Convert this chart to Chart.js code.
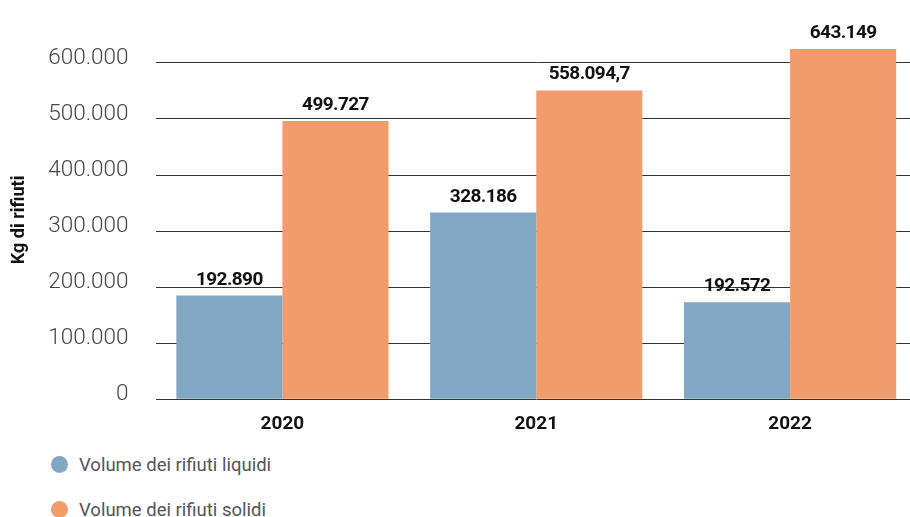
<!DOCTYPE html>
<html>
<head>
<meta charset="utf-8">
<script src="https://cdn.jsdelivr.net/npm/chart.js@4"></script>
<style>
  html, body { margin: 0; padding: 0; background: #fff; width: 910px; height: 517px; overflow: hidden; }
  #wrap { position: relative; width: 917px; height: 445px; }
  .legend { position: absolute; left: 51px; font-family: Roboto, sans-serif; font-size: 18.5px; font-weight: 400; color: #50555c; white-space: nowrap; }
  .legend span.dot { display: inline-block; width: 17px; height: 17px; border-radius: 50%; vertical-align: middle; margin-right: 11px; position: relative; top: -2px; }
</style>
</head>
<body>
<div id="wrap"><canvas id="myChart" width="917" height="445"></canvas></div>
<div class="legend" style="top:454px"><span class="dot" style="background:#82a7c2"></span>Volume dei rifiuti liquidi</div>
<div class="legend" style="top:499px"><span class="dot" style="background:#f39c6b"></span>Volume dei rifiuti solidi</div>
<script>
const anni = ['2020', '2021', '2022'];
// bar heights as drawn in the picture
const rifiutiLiquidi = [185000, 333000, 173000];
const rifiutiSolidi = [496500, 551000, 625000];
// values printed above the bars
const etichetteLiquidi = ['192.890', '328.186', '192.572'];
const etichetteSolidi = ['499.727', '558.094,7', '643.149'];
const yTicks = [0, 100000, 200000, 300000, 400000, 500000, 600000];

const barLabels = {
  id: 'barLabels',
  afterDatasetsDraw(chart) {
    const ctx = chart.ctx;
    const testi = [etichetteLiquidi, etichetteSolidi];
    ctx.save();
    ctx.font = 'bold 19px Roboto, sans-serif';
    ctx.letterSpacing = '-0.6px';
    ctx.fillStyle = '#111';
    ctx.textAlign = 'center';
    ctx.textBaseline = 'alphabetic';
    chart.data.datasets.forEach((ds, i) => {
      chart.getDatasetMeta(i).data.forEach((bar, j) => {
        ctx.fillText(testi[i][j], bar.x, bar.y - 11);
      });
    });
    ctx.restore();
  }
};

const ctx = document.getElementById('myChart').getContext('2d');
const myChart = new Chart(ctx, {
  type: 'bar',
  data: {
    labels: anni,
    datasets: [{
      label: 'Volume dei rifiuti liquidi',
      data: rifiutiLiquidi,
      backgroundColor: '#82a7c2'
    }, {
      label: 'Volume dei rifiuti solidi',
      data: rifiutiSolidi,
      backgroundColor: '#f39c6b'
    }]
  },
  options: {
    responsive: false,
    animation: false,
    layout: { padding: { top: 35, left: 0, right: 0, bottom: 0 } },
    datasets: {
      bar: { categoryPercentage: 0.836, barPercentage: 1 }
    },
    plugins: {
      legend: { display: false },
      tooltip: { enabled: false }
    },
    scales: {
      x: {
        grid: { display: false },
        border: { display: false },
        ticks: {
          color: '#111',
          padding: 6,
          font: { family: 'Roboto', size: 19, weight: 'bold' }
        },
        afterFit(scale) { scale.height = 45.7; }
      },
      y: {
        min: 0,
        max: 640000,
        z: 1,
        afterBuildTicks(axis) { axis.ticks = yTicks.map(v => ({ value: v })); },
        afterFit(scale) { scale.width = 155.5; },
        grid: { color: '#333', lineWidth: 1, drawTicks: false },
        border: { display: false },
        ticks: {
          color: '#444',
          padding: 27,
          labelOffset: -5,
          font: { family: 'Roboto', size: 22.5, weight: '300' },
          callback: v => v.toLocaleString('it-IT')
        },
        title: {
          display: true,
          text: 'Kg di rifiuti',
          color: '#111',
          padding: { top: 9, bottom: 0 },
          font: { family: 'Roboto', size: 18, weight: 'bold' }
        }
      }
    }
  },
  plugins: [barLabels]
});
</script>
</body>
</html>
